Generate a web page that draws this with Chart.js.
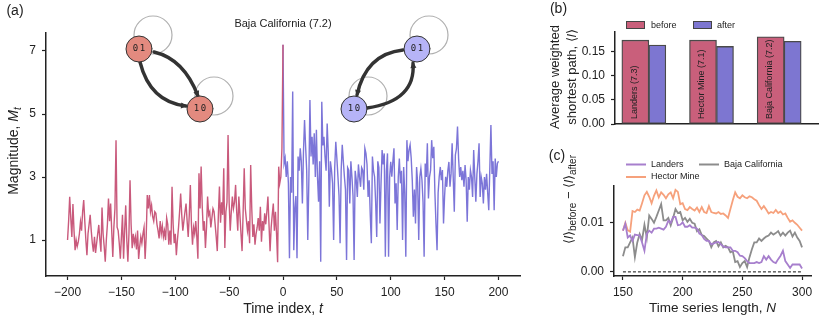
<!DOCTYPE html>
<html>
<head>
<meta charset="utf-8">
<script src="https://cdn.jsdelivr.net/npm/chart.js@4/dist/chart.umd.min.js"></script>
<style>
  html, body { margin: 0; padding: 0; background: #fff; }
  #wrap { position: relative; width: 830px; height: 321px; overflow: hidden; }
  canvas { position: absolute; }
  #chartA { left: 0; top: 0; }
  #chartB { left: 540px; top: 0; }
  #chartC { left: 540px; top: 140px; }
</style>
</head>
<body>
<div id="wrap">
  <canvas id="chartA" width="540" height="321"></canvas>
  <canvas id="chartB" width="290" height="140"></canvas>
  <canvas id="chartC" width="290" height="181"></canvas>
</div>
<script>
// ---------- (a) magnitude time series, t = -200..0 and t = 0..200 ----------
const magBefore = [
  1.0, 1.6, 2.37, 1.7, 1.1, 2.14, 1.3, 0.68, 1.0, 0.8,
  0.95, 1.2, 1.58, 1.3, 1.9, 2.27, 1.6, 1.0, 0.52, 1.2,
  1.5, 1.8, 1.3, 0.9, 0.63, 1.1, 0.59, 0.9, 1.2, 1.48,
  1.0, 0.63, 2.03, 1.2, 0.8, 0.31, 1.0, 1.5, 2.32, 1.6,
  2.16, 1.3, 0.46, 1.41, 2.0, 4.17, 1.41, 1.3, 0.9, 0.41,
  1.1, 1.8, 0.41, 1.3, 2.1, 1.0, 0.31, 1.2, 2.9, 1.5,
  0.74, 1.2, 0.9, 1.1, 0.7, 1.3, 0.4, 0.8, 1.1, 0.9,
  1.2, 1.4, 0.4, 1.1, 2.43, 2.0, 2.43, 1.9, 2.1, 1.74,
  1.6, 1.9, 1.85, 1.5, 1.3, 1.05, 1.6, 1.2, 1.45, 1.1,
  1.3, 1.0, 1.7, 1.5, 0.85, 1.3, 0.85, 2.69, 1.5, 0.9,
  1.2, 0.52, 1.0, 1.4, 1.9, 2.48, 1.8, 1.3, 1.6, 1.9,
  2.16, 1.6, 1.1, 1.8, 2.75, 1.5, 0.85, 1.4, 1.2, 1.6,
  1.1, 0.41, 3.12, 2.0, 3.33, 2.1, 1.3, 1.6, 0.75, 1.4,
  2.38, 1.8, 1.9, 1.4, 1.7, 2.0, 1.9, 1.5, 1.1, 0.65,
  1.8, 2.7, 1.55, 2.2, 1.8, 3.28, 0.75, 1.9, 2.2, 4.33,
  2.2, 1.3, 1.9, 2.38, 2.0, 2.2, 2.75, 1.9, 1.3, 2.38,
  1.8, 1.2, 0.65, 1.9, 3.28, 2.0, 1.65, 1.3, 1.6, 0.9,
  3.38, 2.0, 1.1, 1.5, 0.85, 1.2, 1.4, 1.7, 1.3, 2.06,
  0.95, 1.6, 1.3, 1.85, 1.5, 1.9, 2.38, 1.5, 0.65, 1.4,
  1.8, 2.16, 1.3, 1.9, 1.2, 0.3, 3.33, 2.8, 3.0, 3.9,
  7.2
];
const magAfter = [
  7.2, 3.43, 3.6, 3.0, 3.5, 2.8, 0.42, 3.0, 2.5, 5.71,
  0.68, 2.0, 2.4, 0.42, 3.65, 3.2, 3.91, 3.5, 2.16, 3.8,
  4.81, 3.96, 3.2, 1.0, 2.9, 5.44, 3.65, 4.28, 3.4, 4.39,
  3.0, 4.5, 3.01, 2.22, 3.5, 0.31, 5.39, 4.0, 4.28, 3.65,
  3.2, 4.7, 3.8, 2.06, 3.5, 3.22, 2.8, 1.0, 3.3, 4.12,
  3.6, 3.01, 2.4, 0.9, 3.22, 4.02, 3.5, 3.01, 2.6, 0.37,
  3.3, 3.22, 2.16, 3.5, 3.01, 2.4, 0.37, 3.2, 2.9, 2.37,
  3.4, 3.0, 2.69, 3.3, 3.22, 2.6, 3.91, 3.75, 3.4, 2.37,
  2.9, 1.8, 0.9, 3.65, 3.2, 3.01, 2.2, 1.1, 3.5, 3.3,
  1.53, 2.8, 3.86, 3.4, 3.75, 0.47, 3.2, 3.75, 0.47, 3.0,
  3.48, 3.01, 3.5, 3.91, 2.16, 2.8, 1.32, 3.0, 3.59, 2.8,
  3.2, 1.0, 3.32, 2.5, 0.47, 4.17, 3.5, 3.86, 4.02, 3.6,
  2.9, 1.74, 2.6, 1.53, 3.32, 2.8, 1.0, 3.0, 3.27, 2.9,
  2.2, 0.47, 3.43, 3.0, 4.07, 2.32, 3.0, 3.22, 4.17, 3.6,
  3.96, 2.5, 1.53, 0.68, 2.5, 3.01, 3.32, 2.9, 3.22, 1.53,
  2.4, 3.01, 2.69, 3.2, 3.48, 2.69, 3.1, 4.07, 3.0, 1.9,
  3.7, 3.9, 4.6, 3.59, 3.0, 3.32, 2.9, 3.2, 2.69, 3.38,
  2.9, 1.58, 3.0, 2.6, 3.22, 3.0, 2.37, 3.86, 3.0, 2.22,
  3.1, 3.5, 4.07, 2.37, 3.0, 2.8, 2.16, 3.0, 2.6, 3.1,
  2.5, 1.95, 3.3, 4.65, 3.1, 3.5, 1.95, 3.59, 3.0, 3.43,
  3.5
];
const timeTicks = [-200, -150, -100, -50, 0, 50, 100, 150, 200];
const magTicks = [1, 3, 5, 7];

// ---------- (b) average weighted shortest path ----------
const quakes = ['Landers (7.3)', 'Hector Mine (7.1)', 'Baja California (7.2)'];
const pathBefore = [0.174, 0.174, 0.181];
const pathAfter = [0.164, 0.161, 0.1715];
const pathTicks = [0, 0.05, 0.10, 0.15];

// ---------- (c) difference vs time series length ----------
const seriesLengths = [];
for (let n = 150; n <= 300; n += 2) seriesLengths.push(n);
const diffLanders = [
  0.0084, 0.0098, 0.0070, 0.0074, 0.0063, 0.0076, 0.0075, 0.0074, 0.0060, 0.0043,
  0.0078, 0.0084, 0.0080, 0.0088, 0.0088, 0.0090, 0.0088, 0.0086, 0.0092, 0.0104,
  0.0100, 0.0112, 0.0112, 0.0095, 0.0096, 0.0101, 0.0092, 0.0092, 0.0095, 0.0090,
  0.0090, 0.0088, 0.0078, 0.0075, 0.0067, 0.0063, 0.0063, 0.0056, 0.0058, 0.0060,
  0.0061, 0.0056, 0.0052, 0.0050, 0.0050, 0.0050, 0.0043, 0.0043, 0.0040, 0.0033,
  0.0032, 0.0028, 0.0022, 0.0018, 0.0018, 0.0018, 0.0020, 0.0018, 0.0020, 0.0032,
  0.0025, 0.0032, 0.0025, 0.0020, 0.0018, 0.0026, 0.0033, 0.0043, 0.0022, 0.0015,
  0.0008, 0.0015, 0.0015, 0.0015, 0.0015, 0.0007
];
const diffHector = [
  0.0084, 0.0100, 0.0085, 0.0082, 0.0124, 0.0122, 0.0127, 0.0125, 0.0140, 0.0156,
  0.0163, 0.0153, 0.0140, 0.0155, 0.0166, 0.0152, 0.0162, 0.0157, 0.0150, 0.0158,
  0.0162, 0.0150, 0.0167, 0.0163, 0.0138, 0.0140, 0.0128, 0.0126, 0.0132, 0.0128,
  0.0125, 0.0131, 0.0122, 0.0132, 0.0122, 0.0120, 0.0134, 0.0122, 0.0120, 0.0119,
  0.0122, 0.0118, 0.0119, 0.0115, 0.0110, 0.0128, 0.0146, 0.0162, 0.0153, 0.0150,
  0.0156, 0.0152, 0.0150, 0.0154, 0.0152, 0.0148, 0.0145, 0.0136, 0.0128, 0.0134,
  0.0127, 0.0119, 0.0122, 0.0120, 0.0126, 0.0120, 0.0123, 0.0117, 0.0119, 0.0110,
  0.0102, 0.0105, 0.0100, 0.0096, 0.0090, 0.0084
];
const diffBaja = [
  0.0032, 0.0050, 0.0050, 0.0060, 0.0070, 0.0030, 0.0060, 0.0077, 0.0065, 0.0096,
  0.0070, 0.0115, 0.0108, 0.0100, 0.0112, 0.0125, 0.0138, 0.0105, 0.0105, 0.0110,
  0.0095, 0.0110, 0.0128, 0.0120, 0.0122, 0.0105, 0.0110, 0.0102, 0.0108, 0.0100,
  0.0098, 0.0083, 0.0087, 0.0075, 0.0073, 0.0068, 0.0063, 0.0050, 0.0060, 0.0063,
  0.0052, 0.0060, 0.0050, 0.0053, 0.0050, 0.0040, 0.0042, 0.0020, 0.0022, 0.0010,
  0.0018, 0.0022, 0.0010, 0.0030, 0.0046, 0.0060, 0.0060, 0.0068, 0.0063, 0.0068,
  0.0072, 0.0074, 0.0080, 0.0076, 0.0079, 0.0083, 0.0074, 0.0080, 0.0074, 0.0080,
  0.0084, 0.0072, 0.0080, 0.0070, 0.0063, 0.0050
];
const lengthTicks = [150, 200, 250, 300];
const diffTicks = [0, 0.01];

// ---------- styling ----------
const FONT = '"Liberation Sans", Arial, Helvetica, sans-serif';
const INK = '#222';
const PINK = '#c95a7c';
const BLUE = '#7c75d8';

function fixTicks(values) {
  return scale => { scale.ticks = values.map(v => ({ value: v })); };
}
function axis(extra) {
  return Object.assign({
    border: { display: true, color: INK, width: 1.5 },
    grid: { drawOnChartArea: false, drawTicks: true, tickLength: 4, tickWidth: 1.2, tickColor: INK },
  }, extra);
}
function tickFont(pad) {
  return { color: INK, font: { family: FONT, size: 12 }, padding: pad };
}
const minus = v => v < 0 ? '\u2212' + Math.abs(v) : String(v);

// draws a run of text pieces (mixed fonts / subscripts) centred on cx,cy
function drawRich(ctx, parts, cx, cy, angle) {
  ctx.save();
  ctx.translate(cx, cy);
  ctx.rotate(angle || 0);
  let total = 0;
  parts.forEach(p => { ctx.font = p.font; total += ctx.measureText(p.text).width; });
  let x = -total / 2;
  ctx.textBaseline = 'middle';
  ctx.textAlign = 'left';
  ctx.fillStyle = INK;
  parts.forEach(p => {
    ctx.font = p.font;
    ctx.fillText(p.text, x, p.dy || 0);
    x += ctx.measureText(p.text).width;
  });
  ctx.restore();
}

function drawNetwork(ctx, nodes, arcs, fill) {
  ctx.save();
  ctx.strokeStyle = '#b0b0b0';
  ctx.lineWidth = 1.2;
  nodes.forEach(n => {
    ctx.beginPath();
    ctx.arc(n.lx, n.ly, 19, 0, Math.PI * 2);
    ctx.stroke();
  });
  ctx.strokeStyle = '#333';
  ctx.fillStyle = '#333';
  ctx.lineWidth = 3.4;
  ctx.lineCap = 'round';
  arcs.forEach(a => {
    ctx.beginPath();
    ctx.moveTo(a[0], a[1]);
    ctx.quadraticCurveTo(a[2], a[3], a[4], a[5]);
    ctx.stroke();
    const ang = Math.atan2(a[5] - a[3], a[4] - a[2]);
    const c = Math.cos(ang), s = Math.sin(ang);
    ctx.beginPath();
    ctx.moveTo(a[4] + 1.5 * c, a[5] + 1.5 * s);
    ctx.lineTo(a[4] - 5 * c - 3 * s, a[5] - 5 * s + 3 * c);
    ctx.lineTo(a[4] - 5 * c + 3 * s, a[5] - 5 * s - 3 * c);
    ctx.closePath();
    ctx.fill();
  });
  nodes.forEach(n => {
    ctx.beginPath();
    ctx.arc(n.x, n.y, 13, 0, Math.PI * 2);
    ctx.fillStyle = fill;
    ctx.fill();
    ctx.strokeStyle = '#333';
    ctx.lineWidth = 1;
    ctx.stroke();
    ctx.fillStyle = INK;
    ctx.font = '9px "DejaVu Sans Mono", monospace';
    ctx.textAlign = 'center';
    ctx.textBaseline = 'middle';
    ctx.fillText(n.label[0], n.x - 3.5, n.y);
    ctx.fillText(n.label[1], n.x + 3.5, n.y);
  });
  ctx.restore();
}

// ---------- chart (a) ----------
const decorA = {
  id: 'decorA',
  afterDraw(chart) {
    const ctx = chart.ctx;
    drawRich(ctx, [{ text: '(a)', font: `14px ${FONT}` }], 15, 11.5);
    drawRich(ctx, [{ text: quakes[2], font: `11px ${FONT}` }], 283, 24);
    drawRich(ctx, [
      { text: 'Time index, ', font: `14px ${FONT}` },
      { text: 't', font: `italic 14px ${FONT}` }
    ], 283, 309);
    drawRich(ctx, [
      { text: 'Magnitude, ', font: `14px ${FONT}` },
      { text: 'M', font: `italic 14px ${FONT}` },
      { text: 't', font: `italic 10px ${FONT}`, dy: 4 }
    ], 14, 151, -Math.PI / 2);

    drawNetwork(ctx,
      [{ x: 139, y: 49, lx: 153, ly: 35, label: '01' }, { x: 200, y: 109, lx: 214, ly: 96, label: '10' }],
      [[154, 52, 184, 59, 198, 96], [140, 62, 150, 102, 186, 106]],
      '#e38a7f');
    drawNetwork(ctx,
      [{ x: 417, y: 49, lx: 429, ly: 35, label: '01' }, { x: 354, y: 109, lx: 368, ly: 96, label: '10' }],
      [[403, 50, 366, 54, 357, 95], [367, 108, 416, 101, 413, 63]],
      '#b6b4f7');
  }
};

new Chart(document.getElementById('chartA'), {
  type: 'line',
  data: {
    datasets: [
      {
        data: magBefore.map((m, i) => ({ x: i - 200, y: m })),
        borderColor: PINK, borderWidth: 1.4, pointRadius: 0, tension: 0
      },
      {
        data: magAfter.map((m, i) => ({ x: i, y: m })),
        borderColor: BLUE, borderWidth: 1.4, pointRadius: 0, tension: 0
      }
    ]
  },
  options: {
    responsive: false,
    animation: false,
    devicePixelRatio: 1,
    layout: { padding: { left: 0, right: 20, top: 33, bottom: 0 } },
    plugins: { legend: { display: false }, tooltip: { enabled: false } },
    scales: {
      x: axis({
        type: 'linear', min: -220, max: 220,
        afterBuildTicks: fixTicks(timeTicks),
        afterFit: s => { s.height = 45; },
        ticks: Object.assign(tickFont(5), { callback: minus, maxRotation: 0 })
      }),
      y: axis({
        type: 'linear', min: -0.14, max: 7.57,
        afterBuildTicks: fixTicks(magTicks),
        afterFit: s => { s.width = 46; },
        ticks: tickFont(6)
      })
    }
  },
  plugins: [decorA]
});

// ---------- chart (b) ----------
const decorB = {
  id: 'decorB',
  afterDraw(chart) {
    const ctx = chart.ctx;
    drawRich(ctx, [{ text: '(b)', font: `14px ${FONT}` }], 18.5, 9);
    drawRich(ctx, [{ text: 'Average weighted', font: `13px ${FONT}` }], 15, 77, -Math.PI / 2);
    drawRich(ctx, [
      { text: 'shortest path, \u27e8', font: `13px ${FONT}` },
      { text: 'l', font: `italic 13px ${FONT}` },
      { text: '\u27e9', font: `13px ${FONT}` }
    ], 32, 77, -Math.PI / 2);

    // legend
    const items = [[86, 111], [153, 177]];
    chart.data.datasets.forEach((ds, i) => {
      ctx.fillStyle = ds.backgroundColor;
      ctx.fillRect(items[i][0], 22, 18, 7);
      ctx.strokeStyle = '#444';
      ctx.lineWidth = 1;
      ctx.strokeRect(items[i][0] + 0.5, 21.5, 18, 7);
      ctx.fillStyle = INK;
      ctx.font = `9px ${FONT}`;
      ctx.textAlign = 'left';
      ctx.textBaseline = 'middle';
      ctx.fillText(ds.label, items[i][1], 25.5);
    });

    // quake names inside the "before" bars
    const meta = chart.getDatasetMeta(0);
    const base = chart.scales.y.getPixelForValue(0);
    meta.data.forEach((bar, i) => {
      ctx.save();
      ctx.translate(bar.x - 1, base - 5);
      ctx.rotate(-Math.PI / 2);
      ctx.fillStyle = INK;
      ctx.font = `9px ${FONT}`;
      ctx.textAlign = 'left';
      ctx.textBaseline = 'middle';
      ctx.fillText(quakes[i], 0, 0);
      ctx.restore();
    });
  }
};

new Chart(document.getElementById('chartB'), {
  type: 'bar',
  data: {
    labels: quakes,
    datasets: [
      {
        label: 'before', data: pathBefore, backgroundColor: '#c95f7b',
        borderColor: '#4a4a4a', borderWidth: 1.3, borderSkipped: false, barThickness: 27
      },
      {
        label: 'after', data: pathAfter, backgroundColor: '#7d76d1',
        borderColor: '#4a4a4a', borderWidth: 1.3, borderSkipped: false, barThickness: 17
      }
    ]
  },
  options: {
    responsive: false,
    animation: false,
    devicePixelRatio: 1,
    layout: { padding: { left: 0, right: 12, top: 32, bottom: 16 } },
    plugins: { legend: { display: false }, tooltip: { enabled: false } },
    scales: {
      x: {
        grid: { display: false },
        border: { display: true, color: INK, width: 1.5 },
        ticks: { display: false },
        afterFit: s => { s.height = 0; }
      },
      y: axis({
        min: 0, max: 0.191,
        afterBuildTicks: fixTicks(pathTicks),
        afterFit: s => { s.width = 75; },
        ticks: Object.assign(tickFont(6), { callback: v => v.toFixed(2) })
      })
    }
  },
  plugins: [decorB]
});

// ---------- chart (c) ----------
const decorC = {
  id: 'decorC',
  afterDraw(chart) {
    const ctx = chart.ctx;
    drawRich(ctx, [{ text: '(c)', font: `14px ${FONT}` }], 17, 16.5);
    drawRich(ctx, [
      { text: 'Time series length, ', font: `13.5px ${FONT}` },
      { text: 'N', font: `italic 13.5px ${FONT}` }
    ], 172.5, 168);
    const sub = `10px ${FONT}`, main = `13px ${FONT}`, ital = `italic 13px ${FONT}`;
    drawRich(ctx, [
      { text: '\u27e8', font: main }, { text: 'l', font: ital }, { text: '\u27e9', font: main },
      { text: 'before', font: sub, dy: 4 },
      { text: ' \u2212 ', font: main },
      { text: '\u27e8', font: main }, { text: 'l', font: ital }, { text: '\u27e9', font: main },
      { text: 'after', font: sub, dy: 4 }
    ], 29, 59.5, -Math.PI / 2);

    // legend
    const spots = [[86, 24.5], [86, 37], [159, 24.5]];
    chart.data.datasets.slice(0, 3).forEach((ds, i) => {
      const [x, y] = spots[i];
      ctx.strokeStyle = ds.borderColor;
      ctx.lineWidth = 2;
      ctx.beginPath();
      ctx.moveTo(x, y);
      ctx.lineTo(x + 20, y);
      ctx.stroke();
      ctx.fillStyle = INK;
      ctx.font = `9px ${FONT}`;
      ctx.textAlign = 'left';
      ctx.textBaseline = 'middle';
      ctx.fillText(ds.label, x + 25, y);
    });
  }
};

const toPts = vals => vals.map((v, i) => ({ x: seriesLengths[i], y: v }));
new Chart(document.getElementById('chartC'), {
  type: 'line',
  data: {
    datasets: [
      { label: 'Landers', data: toPts(diffLanders), borderColor: '#a77fcd', borderWidth: 1.8, pointRadius: 0 },
      { label: 'Hector Mine', data: toPts(diffHector), borderColor: '#f6a17c', borderWidth: 1.8, pointRadius: 0 },
      { label: 'Baja California', data: toPts(diffBaja), borderColor: '#8c8c8c', borderWidth: 1.8, pointRadius: 0 },
      {
        label: '', data: [{ x: seriesLengths[0], y: 0 }, { x: seriesLengths[seriesLengths.length - 1], y: 0 }],
        borderColor: '#111', borderWidth: 1, borderDash: [3, 2], pointRadius: 0
      }
    ]
  },
  options: {
    responsive: false,
    animation: false,
    devicePixelRatio: 1,
    layout: { padding: { left: 0, right: 19, top: 46, bottom: 0 } },
    plugins: { legend: { display: false }, tooltip: { enabled: false } },
    scales: {
      x: axis({
        type: 'linear', min: 142.5, max: 307.5,
        afterBuildTicks: fixTicks(lengthTicks),
        afterFit: s => { s.height = 45; },
        ticks: Object.assign(tickFont(5), { maxRotation: 0 })
      }),
      y: axis({
        type: 'linear', min: -0.00084, max: 0.0175,
        afterBuildTicks: fixTicks(diffTicks),
        afterFit: s => { s.width = 74; },
        ticks: Object.assign(tickFont(6), { callback: v => v.toFixed(2) })
      })
    }
  },
  plugins: [decorC]
});
</script>
</body>
</html>
